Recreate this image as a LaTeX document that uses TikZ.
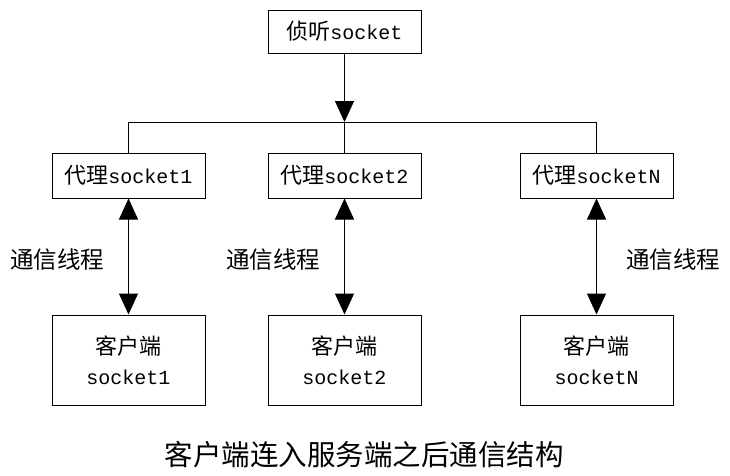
\documentclass[tikz,border=0pt]{standalone}
\usepackage{fontspec}
\setmainfont{Liberation Mono}
\newfontfamily\cjk{Noto Sans CJK SC}
\usetikzlibrary{arrows.meta}
\newcommand\zh[1]{{\cjk\fontsize{22}{29}\selectfont #1}}
\begin{document}
\begin{tikzpicture}[x=1pt,y=-1pt,
  box/.style={draw, line width=1pt, minimum width=153pt, inner sep=0pt, align=center,
    font=\fontsize{20}{30}\selectfont},
  lbl/.style={font=\cjk\fontsize{23.5}{26}\selectfont, inner sep=0pt},
  ln/.style={line width=1pt},
  tip/.style={line width=1pt, -{Triangle[width=19pt,length=21pt]}},
  dtip/.style={line width=1pt, {Triangle[width=19pt,length=21pt]}-{Triangle[width=19pt,length=21pt]}}]
\useasboundingbox (0,0) rectangle (730,475);
\node[box, minimum height=43pt] (listen) at (344.5,31.5) {\zh{侦听}socket};
\node[box, minimum height=45pt] (p1) at (128.5,175.5) {\zh{代理}socket1};
\node[box, minimum height=45pt] (p2) at (344.5,175.5) {\zh{代理}socket2};
\node[box, minimum height=45pt] (p3) at (596.5,175.5) {\zh{代理}socketN};
\node[box, minimum height=90pt] (c1) at (128.5,360) {\zh{客户端}\\socket1};
\node[box, minimum height=90pt] (c2) at (344.5,360) {\zh{客户端}\\socket2};
\node[box, minimum height=90pt] (c3) at (596.5,360) {\zh{客户端}\\socketN};
\coordinate (bm) at (344.5,122);
\draw[tip] (listen.south) -- (bm);
\draw[ln] (p1.north) -- (p1.north |- bm) -- (p3.north |- bm) -- (p3.north);
\draw[ln] (p2.north) -- (p2.north |- bm);
\draw[dtip] (p1.south) -- (c1.north);
\draw[dtip] (p2.south) -- (c2.north);
\draw[dtip] (p3.south) -- (c3.north);
\node[lbl] (t1) at (57,260) {通信线程};
\node[lbl] (t2) at (273,260) {通信线程};
\node[lbl] (t3) at (673,260) {通信线程};
\node[font=\cjk\fontsize{28.5}{30}\selectfont, inner sep=0pt] (cap) at (364,455) {客户端连入服务端之后通信结构};
\end{tikzpicture}
\end{document}
